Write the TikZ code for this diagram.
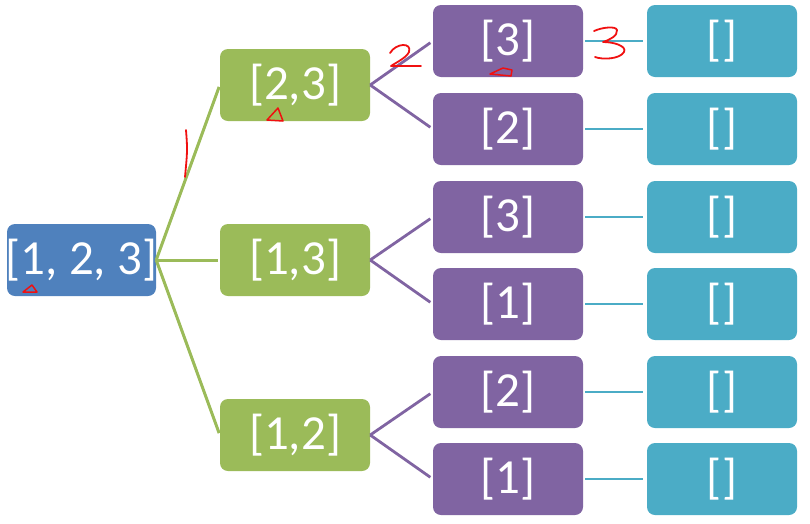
\documentclass[tikz,border=0pt]{standalone}
\usepackage{fontspec}
\setmainfont{Carlito}
\begin{document}
\begin{tikzpicture}[x=1pt,y=-1pt,
  box/.style={rounded corners=8pt, minimum width=150pt, minimum height=72pt,
    inner sep=0pt, text=white, font=\fontsize{49}{56}\selectfont},
  rootbox/.style={box, fill=rootblue, minimum width=149pt},
  lvlone/.style={box, fill=leafgreen},
  lvltwo/.style={box, fill=violet2},
  lvlthree/.style={box, fill=teal2},
  gline/.style={draw=leafgreen, line width=3pt, shorten >=2pt},
  pline/.style={draw=violet2, line width=2.8pt, shorten >=3pt},
  cline/.style={draw=teal2, line width=2.8pt, shorten <=2pt, shorten >=4pt},
  ink/.style={draw=inkred, line width=1.8pt, line cap=round, line join=round}]
\definecolor{rootblue}{HTML}{4F81BD}
\definecolor{leafgreen}{HTML}{9BBB59}
\definecolor{violet2}{HTML}{8064A2}
\definecolor{teal2}{HTML}{4BACC6}
\definecolor{inkred}{HTML}{F01010}
\useasboundingbox (0,0) rectangle (810,523);

% tree nodes (the root label is wider than its box and spills over the edges)
\node[rootbox] (r) at (81.5,260) {\makebox[0pt]{[1, 2, 3]}};
\node[lvlone] (g1) at (295,85) {[2,3]};
\node[lvlone] (g2) at (295,260) {[1,3]};
\node[lvlone] (g3) at (295,435) {[1,2]};
\node[lvltwo] (p1) at (508,41) {[3]};
\node[lvltwo] (p2) at (508,129) {[2]};
\node[lvltwo] (p3) at (508,217) {[3]};
\node[lvltwo] (p4) at (508,304) {[1]};
\node[lvltwo] (p5) at (508,392) {[2]};
\node[lvltwo] (p6) at (508,479) {[1]};
\foreach \i/\y in {1/41,2/129,3/217,4/304,5/392,6/479}
  \node[lvlthree] (c\i) at (722,\y) {[]};

% connectors
\foreach \g in {g1,g2,g3} \draw[gline] (r.east) -- (\g.west);
\draw[pline] (g1.east) -- (p1.west);
\draw[pline] (g1.east) -- (p2.west);
\draw[pline] (g2.east) -- (p3.west);
\draw[pline] (g2.east) -- (p4.west);
\draw[pline] (g3.east) -- (p5.west);
\draw[pline] (g3.east) -- (p6.west);
\foreach \i in {1,...,6} \draw[cline] (p\i.east) -- (c\i.west);

% handwritten marks: step numbers
\draw[ink] (186,130) .. controls (187.5,150) .. (185,177);
\draw[ink] (390,53) .. controls (396,43) and (412,42) .. (409,52)
  .. controls (406,58) and (397,62) .. (391,66) -- (421,66);
\draw[ink] (594,31) .. controls (603,27) and (616,26) .. (617,30)
  .. controls (618,36) and (609,40) .. (603,42)
  .. controls (614,42) and (627,46) .. (624,52)
  .. controls (620,59) and (603,60) .. (595,57);
% handwritten marks: small triangles under the chosen digit
\draw[ink, line width=1.5pt] (23,292) -- (32,285) -- (37,292) -- cycle;
\draw[ink, line width=1.5pt] (267,120) -- (278,108) -- (283,121) -- cycle;
\draw[ink, line width=1.5pt] (490,74) -- (503,68) -- (512,70) -- (511,76) -- cycle;
\end{tikzpicture}
\end{document}
